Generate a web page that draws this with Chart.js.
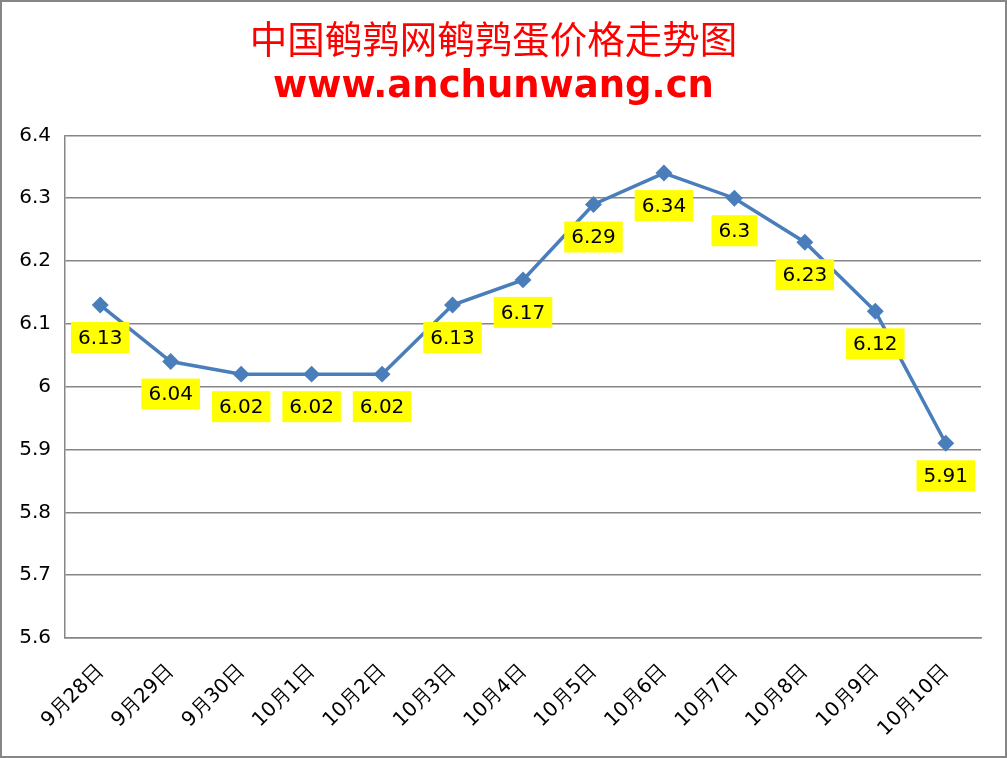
<!DOCTYPE html>
<html>
<head>
<meta charset="utf-8">
<script src="https://cdn.jsdelivr.net/npm/chart.js@4"></script>
<style>
  html, body { margin: 0; padding: 0; background: #fff; }
  #wrap { width: 1003px; height: 754px; border: 2px solid #868686; position: relative; }
</style>
</head>
<body>
<div id="wrap"><canvas id="chart" width="1003" height="754"></canvas></div>
<script>
// 数据
const categories = ['9月28日', '9月29日', '9月30日', '10月1日', '10月2日', '10月3日', '10月4日',
  '10月5日', '10月6日', '10月7日', '10月8日', '10月9日', '10月10日'];
const prices = [6.13, 6.04, 6.02, 6.02, 6.02, 6.13, 6.17, 6.29, 6.34, 6.3, 6.23, 6.12, 5.91];
const yMin = 5.6;
const yMax = 6.4;
const yStep = 0.1;

// 黄色数据标签
const labelPlugin = {
  id: 'yellowLabels',
  afterDatasetsDraw(chart) {
    const ctx = chart.ctx;
    const meta = chart.getDatasetMeta(0);
    ctx.save();
    ctx.font = '20px "DejaVu Sans"';
    ctx.textAlign = 'center';
    ctx.textBaseline = 'middle';
    meta.data.forEach((pt, i) => {
      const txt = String(prices[i]);
      const w = ctx.measureText(txt).width + 14;
      const h = 31;
      const cy = pt.y + 32.5;
      ctx.fillStyle = '#ffff00';
      ctx.fillRect(pt.x - w / 2, cy - h / 2, w, h);
      ctx.fillStyle = '#000';
      ctx.fillText(txt, pt.x, cy + 1);
    });
    ctx.restore();
  }
};

new Chart(document.getElementById('chart'), {
  type: 'line',
  data: {
    labels: categories,
    datasets: [{
      data: prices,
      borderColor: '#4a7ebb',
      backgroundColor: '#4a7ebb',
      borderWidth: 3.5,
      pointStyle: 'rectRot',
      pointRadius: 6,
      pointHoverRadius: 6,
      tension: 0
    }]
  },
  options: {
    responsive: false,
    animation: false,
    layout: { padding: { left: 4, right: 24, top: 0, bottom: 0 } },
    plugins: {
      legend: { display: false },
      tooltip: { enabled: false },
      title: {
        display: true,
        text: '中国鹌鹑网鹌鹑蛋价格走势图',
        color: '#ff0000',
        font: { family: '"Noto Sans CJK SC"', size: 37.5, weight: 'normal' },
        padding: { top: 14, bottom: 0 }
      },
      subtitle: {
        display: true,
        text: 'www.anchunwang.cn',
        color: '#ff0000',
        font: { family: '"DejaVu Sans"', size: 37, weight: 'bold' },
        padding: { top: 4, bottom: 26 }
      }
    },
    scales: {
      x: {
        offset: true,
        afterFit(scale) { scale.height = 118; },
        grid: { display: false, drawTicks: false },
        border: { color: '#868686', width: 1.5 },
        ticks: {
          color: '#000',
          font: { family: '"DejaVu Sans"', size: 20 },
          minRotation: 45,
          maxRotation: 45,
          padding: 22
        }
      },
      y: {
        min: yMin,
        max: yMax,
        afterFit(scale) { scale.width = 59; },
        grid: { color: '#868686', lineWidth: 1.5, drawTicks: false },
        border: { color: '#868686', width: 1.5 },
        ticks: {
          stepSize: yStep,
          color: '#000',
          font: { family: '"DejaVu Sans"', size: 20 },
          padding: 14,
          callback: v => String(Number(v.toFixed(1)))
        }
      }
    }
  },
  plugins: [labelPlugin]
});
</script>
</body>
</html>
